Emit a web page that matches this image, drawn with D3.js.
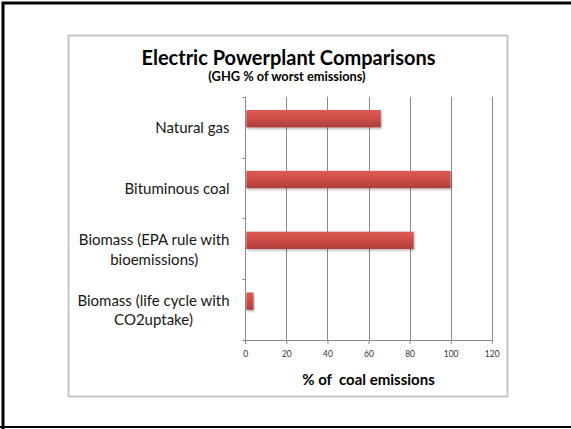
<!DOCTYPE html>
<html>
<head>
<meta charset="utf-8">
<script src="https://cdn.jsdelivr.net/npm/d3@7"></script>
<style>
  html, body { margin: 0; padding: 0; background: #fff; }
  svg { display: block; }
  text { font-family: Lato, "Open Sans", sans-serif; }
</style>
</head>
<body>
<svg id="chart" width="571" height="429"></svg>
<script>
// Emissions per plant type, as % of the worst emitter (coal)
const categories = [
  ["Natural gas"],
  ["Bituminous coal"],
  ["Biomass (EPA rule with", "bioemissions)"],
  ["Biomass (life cycle with", "CO2uptake)"]
];
const values = [66, 100, 82, 4];
const xTicks = [0, 20, 40, 60, 80, 100, 120];
const titleText = "Electric Powerplant Comparisons";
const subtitleText = "(GHG % of worst emissions)";
const xAxisTitle = "% of  coal emissions";

const svg = d3.select("#chart");
const W = 571, H = 429;

// Slide frame (left, top, bottom edges)
svg.append("path")
  .attr("d", `M3,${H} V3 H${W}`)
  .attr("fill", "none").attr("stroke", "#000").attr("stroke-width", 3);
svg.append("line")
  .attr("x1", 0).attr("x2", W).attr("y1", 427).attr("y2", 427)
  .attr("stroke", "#000").attr("stroke-width", 2);

// Chart area border
svg.append("rect")
  .attr("x", 68.5).attr("y", 35.5).attr("width", 439).attr("height", 361)
  .attr("fill", "#fff").attr("stroke", "#c6c6c6").attr("stroke-width", 2);

const plot = { left: 245.3, right: 491.7, top: 96.7, bottom: 340 };

const x = d3.scaleLinear().domain([0, 120]).range([plot.left, plot.right]);
const y = d3.scaleBand().domain(d3.range(categories.length))
  .range([plot.top, plot.bottom]).paddingInner(0).paddingOuter(0);

const defs = svg.append("defs");
const grad = defs.append("linearGradient").attr("id", "barGrad")
  .attr("x1", 0).attr("x2", 0).attr("y1", 0).attr("y2", 1);
grad.append("stop").attr("offset", "0%").attr("stop-color", "#dd5a54");
grad.append("stop").attr("offset", "45%").attr("stop-color", "#cf4e49");
grad.append("stop").attr("offset", "100%").attr("stop-color", "#ae3f3b");
const shadow = defs.append("filter").attr("id", "barShadow")
  .attr("x", "-10%").attr("y", "-30%").attr("width", "130%").attr("height", "180%");
shadow.append("feDropShadow").attr("dx", 1).attr("dy", 1.5).attr("stdDeviation", 1.2)
  .attr("flood-color", "#000").attr("flood-opacity", 0.3);

// Vertical gridlines
svg.append("g").selectAll("line").data(xTicks.slice(1)).join("line")
  .attr("x1", d => Math.round(x(d)) + 0.5).attr("x2", d => Math.round(x(d)) + 0.5)
  .attr("y1", plot.top).attr("y2", plot.bottom)
  .attr("stroke", "#8a8a8a").attr("stroke-width", 1);

// Bottom axis
const xAxis = d3.axisBottom(x).tickValues(xTicks).tickSize(4).tickSizeOuter(0);
const gx = svg.append("g").attr("transform", `translate(0,${plot.bottom})`).call(xAxis);
gx.select(".domain").attr("stroke", "#8a8a8a");
gx.selectAll(".tick line").attr("stroke", "#8a8a8a");
gx.selectAll(".tick text").attr("font-size", 8.5).attr("fill", "#333")
  .attr("font-family", "Lato, sans-serif").attr("y", 8).attr("dy", "1.1em");

// Left axis with category boundary ticks
svg.append("line")
  .attr("x1", Math.round(plot.left) + 0.5).attr("x2", Math.round(plot.left) + 0.5)
  .attr("y1", plot.top).attr("y2", plot.bottom + 4)
  .attr("stroke", "#8a8a8a");
const bounds = d3.range(categories.length + 1).map(i => plot.top + i * y.bandwidth());
svg.append("g").selectAll("line").data(bounds).join("line")
  .attr("x1", plot.left - 3).attr("x2", plot.left)
  .attr("y1", d => Math.round(d) + 0.5).attr("y2", d => Math.round(d) + 0.5)
  .attr("stroke", "#8a8a8a");

// Bars
const bw = y.bandwidth();
const barH = bw * 0.285, barOff = bw * 0.219;
svg.append("g").selectAll("rect").data(values).join("rect")
  .attr("x", x(0) + 1)
  .attr("y", (d, i) => y(i) + barOff)
  .attr("width", d => x(d) - x(0) - 1)
  .attr("height", barH)
  .attr("fill", "url(#barGrad)")
  .attr("filter", "url(#barShadow)");

// Category labels (multi-line labels are centred on their widest line)
const labelRight = 229.5;
const lineH = 19.5;
const lg = svg.append("g");
categories.forEach((lines, i) => {
  const cy = y(i) + bw / 2;
  const t = lg.append("text").attr("font-size", 15).attr("fill", "#161616");
  const spans = lines.map((s, j) => t.append("tspan").text(s));
  const widths = spans.map(s => s.node().getComputedTextLength());
  const maxW = d3.max(widths);
  const cx = labelRight - maxW / 2;
  const y0 = cy - (lines.length - 1) * lineH / 2 + 6;
  spans.forEach((s, j) => s.attr("x", cx).attr("y", y0 + j * lineH).attr("text-anchor", "middle"));
});

// Titles
svg.append("text").attr("x", 288.5).attr("y", 65)
  .attr("text-anchor", "middle").attr("font-size", 20).attr("font-weight", "bold")
  .attr("fill", "#000").text(titleText);
svg.append("text").attr("x", 287).attr("y", 80.5)
  .attr("text-anchor", "middle").attr("font-size", 12.8).attr("font-weight", "bold")
  .attr("fill", "#000").text(subtitleText);
svg.append("text").attr("x", 368.5).attr("y", 385)
  .attr("text-anchor", "middle").attr("font-size", 15).attr("font-weight", "bold")
  .attr("fill", "#000").attr("xml:space", "preserve").style("white-space", "pre").text(xAxisTitle);
</script>
</body>
</html>
